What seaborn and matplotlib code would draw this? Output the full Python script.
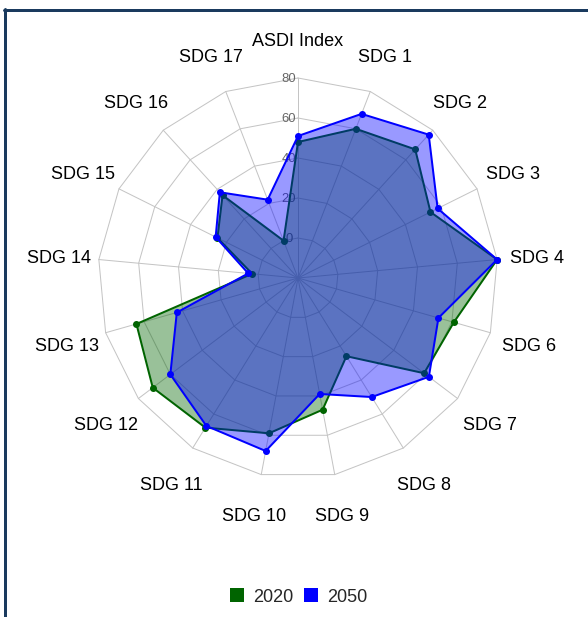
import numpy as np
import pandas as pd
import matplotlib
matplotlib.use("Agg")
import matplotlib.pyplot as plt
import seaborn as sns
from matplotlib.patches import Patch
from matplotlib.lines import Line2D

# Radar axes, one per indicator (clockwise from the top)
categories = ["ASDI Index", "SDG 1", "SDG 2", "SDG 3", "SDG 4", "SDG 6", "SDG 7",
              "SDG 8", "SDG 9", "SDG 10", "SDG 11", "SDG 12", "SDG 13", "SDG 14",
              "SDG 15", "SDG 16", "SDG 17"]
values_2020 = [48, 60, 67, 54, 80, 61, 59, 26, 47, 59, 68, 71, 64, 3, 25, 36, 0]
values_2050 = [51, 68, 77, 58, 80, 53, 62, 50, 39, 68, 67, 60, 43, 5, 26, 38, 22]
series_names = ["2020", "2050"]
radial_ticks = [0, 20, 40, 60, 80]
radial_min, radial_max = -20, 80

line_colors = ["#006400", "#0000ff"]
fill_colors = [(0, 100 / 255, 0, 0.4), (0, 0, 1, 0.4)]
grid_color = "#c4c4c4"

sns.set_theme(style="white")
plt.rcParams["font.family"] = ["Liberation Sans", "DejaVu Sans"]

W, H, DPI = 588, 617, 100
PX = 72 / DPI  # points per pixel
fig = plt.figure(figsize=(W / DPI, H / DPI), dpi=DPI)
fig.patch.set_facecolor("white")

cx, cy, R = 298, 278, 200
ax = fig.add_axes([(cx - R) / W, (H - cy - R) / H, 2 * R / W, 2 * R / H],
                  projection="polar")
ax.set_theta_zero_location("N")
ax.set_theta_direction(-1)
ax.set_ylim(radial_min, radial_max)
ax.grid(False)
ax.set_xticks([])
ax.set_yticks([])
ax.spines["polar"].set_visible(False)
ax.patch.set_alpha(0)

n = len(categories)
theta = np.linspace(0, 2 * np.pi, n, endpoint=False)
theta_closed = np.append(theta, 2 * np.pi)

# polygonal grid rings and spokes
for v in radial_ticks:
    ax.plot(theta_closed, [v] * (n + 1), color=grid_color, lw=1 * PX,
            zorder=1, clip_on=False)
for t in theta:
    ax.plot([t, t], [radial_min, radial_max], color=grid_color, lw=1 * PX,
            zorder=1, clip_on=False)

# radial tick labels
for v in radial_ticks:
    ax.annotate(str(v), xy=(0, v), xytext=(-9 * PX, -1 * PX),
                textcoords="offset points", ha="center", va="center",
                fontsize=13 * PX, color="#666666", zorder=1.5,
                annotation_clip=False)

# datasets
for k, vals in enumerate([values_2020, values_2050]):
    base = 2 + k
    closed = list(vals) + [vals[0]]
    ax.fill(theta_closed, closed, color=fill_colors[k], lw=0, zorder=base)
    df_line = pd.DataFrame({"theta": theta_closed, "value": closed})
    sns.lineplot(data=df_line, x="theta", y="value", ax=ax, sort=False,
                 estimator=None, color=line_colors[k], lw=2 * PX,
                 zorder=base + 0.1, clip_on=False)
    df_pts = pd.DataFrame({"theta": theta, "value": vals})
    sns.scatterplot(data=df_pts, x="theta", y="value", ax=ax,
                    color=line_colors[k], s=(7 * PX) ** 2, linewidth=0,
                    zorder=base + 0.2, clip_on=False)

ax.set_xlabel("")
ax.set_ylabel("")
ax.set_ylim(radial_min, radial_max)

# category labels around the chart
for t, name in zip(theta, categories):
    ax.annotate(name, xy=(t, 100), xytext=(0, -3 * PX), textcoords="offset points",
                ha="center", va="center", fontsize=18 * PX, color="#000000",
                annotation_clip=False)

# legend
handles = [Patch(facecolor=c, edgecolor="none") for c in line_colors]
fig.legend(handles, series_names, loc="center",
           bbox_to_anchor=(298.5 / W, 1 - 597 / H), ncol=2, frameon=False,
           fontsize=18 * PX, handlelength=0.78, handleheight=0.78,
           handletextpad=0.5, columnspacing=0.6, borderaxespad=0, borderpad=0)

# frame
frame_color = "#1a3a5e"
fig.add_artist(Line2D([5 / W, 5 / W], [0, 1 - 9 / H], color=frame_color,
                      lw=3 * PX, transform=fig.transFigure))
fig.add_artist(Line2D([4 / W, 1], [1 - 10 / H, 1 - 10 / H], color=frame_color,
                      lw=3 * PX, transform=fig.transFigure))

fig.savefig("out.png", dpi=DPI)
